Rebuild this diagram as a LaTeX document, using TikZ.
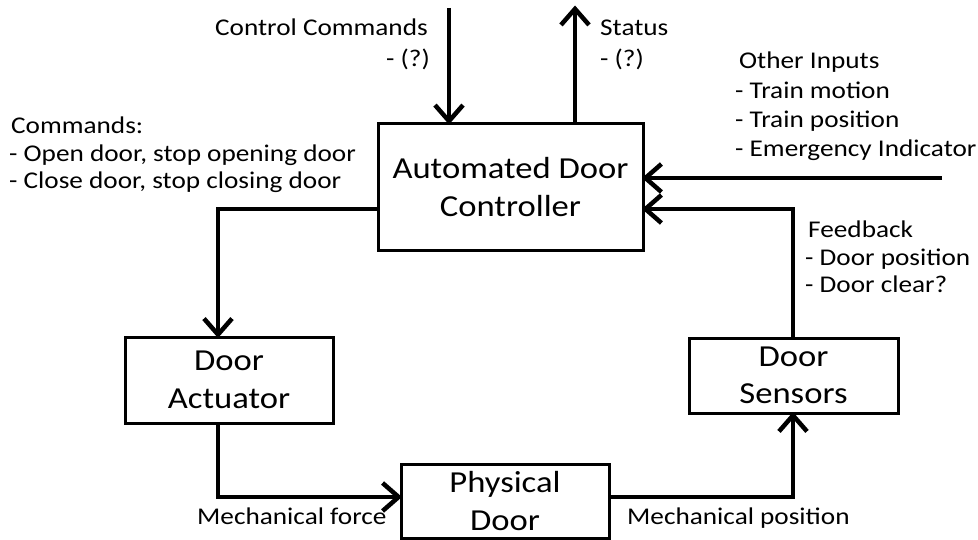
\documentclass[tikz,border=0pt]{standalone}
\usepackage{fontspec}
\setmainfont[FakeStretch=1.135]{Carlito}
\usetikzlibrary{arrows.meta}
\tikzset{
  box/.style={draw, line width=3pt, rectangle, align=center, inner sep=0pt,
    font=\fontsize{30.5}{37.5}\selectfont},
  lbl/.style={inner sep=0pt, font=\fontsize{24}{28.5}\selectfont},
  conn/.style={line width=4.5pt, line join=miter, shorten >=-2.5pt,
    -{Straight Barb[length=16pt,width=28pt,line width=4.5pt]}}
}
\begin{document}
\begin{tikzpicture}[x=1pt,y=-1pt]
\useasboundingbox (0,0) rectangle (978,540);
% boxes
\node[box, minimum width=265pt, minimum height=127pt] (ctrl) at (510.5,187) {Automated Door\\Controller};
\node[box, minimum width=208pt, minimum height=86pt] (act) at (229,380) {Door\\Actuator};
\node[box, minimum width=208pt, minimum height=74pt] (phys) at (505,501) {Physical\\Door};
\node[box, minimum width=209pt, minimum height=75pt] (sens) at (793.5,375.5) {Door\\Sensors};
% coordinates
\coordinate (cin) at (449,8);
\coordinate (sout) at (575,8);
\coordinate (oin) at (942,178);
\coordinate (fbk) at (793,209);
\coordinate (cl) at (218,209);
\coordinate (al) at (218,497);
\coordinate (pr) at (793,497);
% connectors
\draw[conn] (cin) -- (cin |- ctrl.north);
\draw[conn] (sout |- ctrl.north) -- (sout);
\draw[conn] (oin) -- (oin -| ctrl.east);
\draw[conn] (sens.north -| fbk) -- (fbk) -- (fbk -| ctrl.east);
\draw[conn] (cl -| ctrl.west) -- (cl) -- (cl |- act.north);
\draw[conn] (al |- act.south) -- (al) -- (al -| phys.west);
\draw[conn] (pr -| phys.east) -- (pr) -- (pr |- sens.south);
% labels
\node[lbl, anchor=base east] (cc1) at (428,36) {Control Commands};
\node[lbl, anchor=base east] (cc2) at (430,67) {- (?)};
\node[lbl, anchor=base west] (st1) at (600,36) {Status};
\node[lbl, anchor=base west] (st2) at (600,67) {- (?)};
\node[lbl, anchor=base west] (oi1) at (739,69) {Other Inputs};
\node[lbl, anchor=base west] (oi2) at (735,99) {- Train motion};
\node[lbl, anchor=base west] (oi3) at (735,128) {- Train position};
\node[lbl, anchor=base west] (oi4) at (735,157) {- Emergency Indicator};
\node[lbl, anchor=base west] (cm1) at (11,134) {Commands:};
\node[lbl, anchor=base west] (cm2) at (9,162) {- Open door, stop opening door};
\node[lbl, anchor=base west] (cm3) at (9,189) {- Close door, stop closing door};
\node[lbl, anchor=base west] (fb1) at (808,238) {Feedback};
\node[lbl, anchor=base west] (fb2) at (805,266) {- Door position};
\node[lbl, anchor=base west] (fb3) at (805,293) {- Door clear?};
\node[lbl, anchor=base west] (mf) at (197,524) {Mechanical force};
\node[lbl, anchor=base west] (mp) at (627,524) {Mechanical position};
\end{tikzpicture}
\end{document}
